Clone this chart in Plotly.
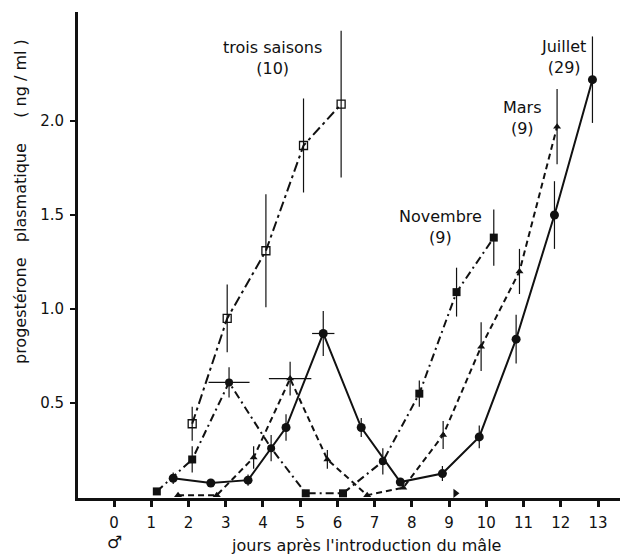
import plotly.graph_objects as go

# ---- data ----
ts_x = [2.1, 3.04, 4.08, 5.09, 6.1]
ts_y = [0.39, 0.95, 1.31, 1.87, 2.09]
ts_e = [0.09, 0.18, 0.30, 0.25, 0.39]

nov_x = [1.15, 2.1, 3.09, 4.22, 5.15, 6.15, 7.22, 8.2, 9.2, 10.2]
nov_y = [0.03, 0.20, 0.61, 0.26, 0.02, 0.02, 0.19, 0.55, 1.09, 1.38]
nov_e = [0.0, 0.07, 0.08, 0.07, 0.0, 0.0, 0.07, 0.07, 0.13, 0.15]
nov_ex = [0, 0, 0.55, 0, 0, 0, 0, 0, 0, 0]

mars_x = [1.72, 2.76, 3.75, 4.73, 5.73, 6.8, 7.77, 8.84, 9.86, 10.89, 11.9]
mars_y = [0.01, 0.01, 0.21, 0.63, 0.20, 0.01, 0.05, 0.33, 0.80, 1.20, 1.97]
mars_e = [0.0, 0.0, 0.06, 0.09, 0.05, 0.0, 0.0, 0.075, 0.13, 0.12, 0.20]
mars_ex = [0, 0, 0, 0.57, 0, 0, 0, 0, 0, 0, 0]

jul_x = [1.59, 2.6, 3.6, 4.62, 5.62, 6.64, 7.69, 8.82, 9.81, 10.8, 11.83, 12.85]
jul_y = [0.10, 0.075, 0.09, 0.37, 0.87, 0.37, 0.08, 0.125, 0.32, 0.84, 1.50, 2.22]
jul_e = [0.03, 0.02, 0.03, 0.07, 0.12, 0.05, 0.02, 0.04, 0.06, 0.13, 0.18, 0.23]
jul_ex = [0, 0, 0, 0, 0.3, 0, 0, 0, 0, 0, 0, 0]

flag_x = [9.17]
flag_y = [0.02]

x_ticks = list(range(0, 14))
y_ticks = [0.5, 1.0, 1.5, 2.0]
y_labels = ["0.5", "1.0", "1.5", "2.0"]

label_x = [4.27, 12.06, 10.98, 8.78]
label_y = [2.335, 2.34, 2.016, 1.436]
label_txt = ["trois saisons<br>(10)", "Juillet<br>(29)", "Mars<br>(9)", "Novembre<br>(9)"]

x_title = "jours après l'introduction du mâle"
y_title = "progestérone   plasmatique     ( ng / ml )"

FONT = "DejaVu Sans"
BLACK = "#111111"

fig = go.Figure()

def ebar(arr):
    return dict(type="data", array=arr, visible=True, color=BLACK, thickness=1.2, width=0)

fig.add_trace(go.Scatter(
    x=ts_x, y=ts_y, mode="lines+markers", name="trois saisons",
    line=dict(color=BLACK, width=2, dash="10px,4px,3px,4px"),
    marker=dict(symbol="square-open", size=8, color=BLACK, line=dict(width=1.3, color=BLACK)),
    error_y=ebar(ts_e)))

nov_sym = ["square", "square", "circle", "circle", "square", "square", "circle", "square", "square", "square"]
fig.add_trace(go.Scatter(
    x=nov_x, y=nov_y, mode="lines+markers", name="Novembre",
    line=dict(color=BLACK, width=2, dash="8px,4px,2px,4px"),
    marker=dict(symbol=nov_sym, size=8, color=BLACK),
    error_y=ebar(nov_e), error_x=ebar(nov_ex)))

fig.add_trace(go.Scatter(
    x=mars_x, y=mars_y, mode="lines+markers", name="Mars",
    line=dict(color=BLACK, width=2, dash="6px,4px"),
    marker=dict(symbol="triangle-up", size=7, color=BLACK),
    error_y=ebar(mars_e), error_x=ebar(mars_ex)))

fig.add_trace(go.Scatter(
    x=jul_x, y=jul_y, mode="lines+markers", name="Juillet",
    line=dict(color=BLACK, width=2),
    marker=dict(symbol="circle", size=9, color=BLACK),
    error_y=ebar(jul_e), error_x=ebar(jul_ex)))

fig.add_trace(go.Scatter(
    x=flag_x, y=flag_y, mode="markers", name="repère",
    marker=dict(symbol="triangle-right", size=8, color=BLACK)))

for lx, ly, txt in zip(label_x, label_y, label_txt):
    fig.add_annotation(x=lx, y=ly, text=txt, showarrow=False, xref="x", yref="y",
                       font=dict(family=FONT, size=16, color=BLACK), align="center")

# male symbol under tick 0
fig.add_annotation(x=0, y=0, yshift=-45, text="♂", showarrow=False, xref="x", yref="y",
                   font=dict(family=FONT, size=17, color=BLACK))

# axis titles as annotations (positioned like the reference)
fig.add_annotation(x=0.531, y=0, xref="paper", yref="paper", yshift=-47, yanchor="middle",
                   text=x_title, showarrow=False, font=dict(family=FONT, size=16, color=BLACK))
fig.add_annotation(x=0, y=0.609, xref="paper", yref="paper", xshift=-58, xanchor="center",
                   yanchor="middle", textangle=-90, text=y_title, showarrow=False,
                   font=dict(family=FONT, size=16, color=BLACK))

fig.update_layout(
    width=631, height=555,
    margin=dict(l=70, r=19, t=4, b=65, autoexpand=False),
    paper_bgcolor="white", plot_bgcolor="white",
    showlegend=False,
    font=dict(family=FONT, size=15, color=BLACK),
    xaxis=dict(range=[-0.967, 13.59], tickvals=x_ticks, ticktext=[str(v) for v in x_ticks],
               showline=True, linewidth=3, linecolor=BLACK, showgrid=False, zeroline=False,
               ticks="outside", ticklen=6, tickwidth=2.5, tickcolor=BLACK,
               ticklabelstandoff=3,
               tickfont=dict(family=FONT, size=15)),
    yaxis=dict(range=[-0.005, 2.58], tickvals=y_ticks, ticktext=y_labels,
               showline=True, linewidth=3, linecolor=BLACK, showgrid=False, zeroline=False,
               ticks="outside", ticklen=5, tickwidth=2, tickcolor=BLACK,
               ticklabelstandoff=3,
               tickfont=dict(family=FONT, size=15)),
)

fig.write_html("out.html")
